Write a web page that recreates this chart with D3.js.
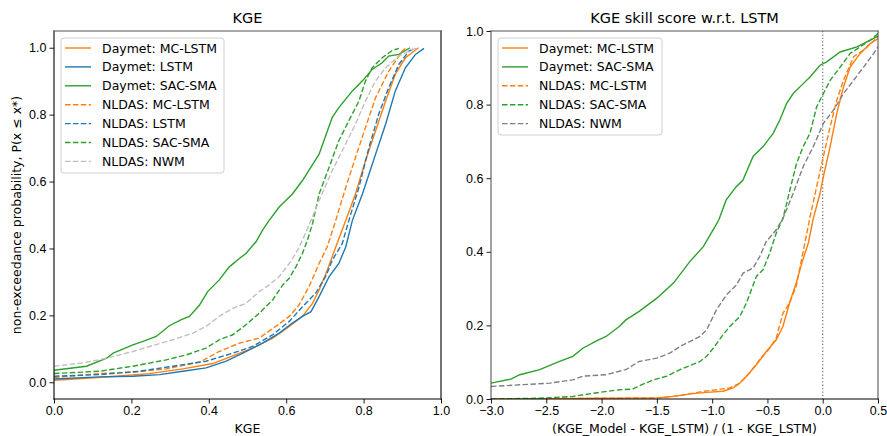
<!DOCTYPE html>
<html>
<head>
<meta charset="utf-8">
<script src="https://cdn.jsdelivr.net/npm/d3@7"></script>
<style>
  body { margin: 0; background: #fff; }
  svg { font-family: "DejaVu Sans", sans-serif; }
  .tick text { font-size: 12.5px; fill: #000; }
</style>
</head>
<body>
<div id="chart"></div>
<script>
// ---- data: ECDF curves, [value, probability] ----
const kgeDaymetMc = [[0,0.006],[0.084,0.012],[0.161,0.018],[0.247,0.026],[0.333,0.04],[0.41,0.056],[0.462,0.079],[0.513,0.102],[0.565,0.132],[0.608,0.167],[0.642,0.197],[0.668,0.236],[0.685,0.276],[0.706,0.335],[0.728,0.404],[0.754,0.484],[0.779,0.563],[0.805,0.663],[0.831,0.752],[0.857,0.841],[0.882,0.921],[0.908,0.97],[0.942,1.0]];
const kgeDaymetLstm = [[0,0.01],[0.118,0.016],[0.204,0.018],[0.273,0.023],[0.333,0.033],[0.393,0.043],[0.445,0.063],[0.488,0.087],[0.539,0.117],[0.582,0.147],[0.616,0.177],[0.642,0.197],[0.664,0.211],[0.685,0.256],[0.711,0.316],[0.736,0.355],[0.754,0.405],[0.771,0.484],[0.797,0.563],[0.831,0.682],[0.857,0.772],[0.882,0.871],[0.908,0.94],[0.934,0.98],[0.956,0.998]];
const kgeDaymetSac = [[0,0.036],[0.084,0.048],[0.136,0.072],[0.153,0.087],[0.204,0.112],[0.23,0.122],[0.264,0.137],[0.298,0.169],[0.329,0.187],[0.35,0.197],[0.376,0.231],[0.397,0.271],[0.427,0.306],[0.453,0.345],[0.479,0.37],[0.496,0.385],[0.522,0.42],[0.539,0.455],[0.556,0.484],[0.582,0.524],[0.616,0.563],[0.642,0.603],[0.685,0.682],[0.719,0.792],[0.736,0.821],[0.771,0.871],[0.797,0.901],[0.822,0.935],[0.848,0.955],[0.865,0.975],[0.891,0.98],[0.92,1.0]];
const kgeNldasMc = [[0,0.014],[0.118,0.026],[0.204,0.03],[0.29,0.04],[0.376,0.06],[0.427,0.092],[0.479,0.117],[0.53,0.132],[0.573,0.167],[0.608,0.197],[0.633,0.231],[0.659,0.286],[0.685,0.355],[0.706,0.405],[0.728,0.484],[0.754,0.583],[0.779,0.672],[0.805,0.762],[0.831,0.851],[0.865,0.93],[0.9,0.99],[0.908,0.998]];
const kgeNldasLstm = [[0,0.018],[0.118,0.023],[0.221,0.033],[0.307,0.048],[0.393,0.063],[0.462,0.087],[0.513,0.107],[0.565,0.142],[0.608,0.182],[0.642,0.226],[0.676,0.266],[0.702,0.316],[0.719,0.365],[0.745,0.415],[0.762,0.484],[0.788,0.583],[0.814,0.702],[0.839,0.801],[0.865,0.881],[0.891,0.95],[0.917,0.99],[0.934,0.998]];
const kgeNldasSac = [[0,0.026],[0.118,0.033],[0.204,0.048],[0.29,0.067],[0.342,0.082],[0.393,0.102],[0.427,0.127],[0.462,0.142],[0.496,0.172],[0.53,0.206],[0.565,0.246],[0.591,0.291],[0.608,0.311],[0.625,0.345],[0.642,0.385],[0.655,0.425],[0.668,0.474],[0.685,0.563],[0.711,0.643],[0.736,0.722],[0.762,0.782],[0.788,0.841],[0.805,0.901],[0.822,0.94],[0.848,0.97],[0.874,0.992],[0.891,0.998]];
const kgeNldasNwm = [[0,0.048],[0.076,0.058],[0.136,0.072],[0.204,0.092],[0.247,0.107],[0.307,0.127],[0.359,0.147],[0.393,0.167],[0.427,0.197],[0.462,0.221],[0.496,0.236],[0.53,0.271],[0.556,0.291],[0.582,0.316],[0.608,0.355],[0.625,0.385],[0.642,0.425],[0.664,0.484],[0.685,0.543],[0.719,0.633],[0.745,0.692],[0.779,0.772],[0.805,0.841],[0.831,0.901],[0.857,0.94],[0.891,0.975],[0.925,0.995],[0.942,1.0]];

const skillDaymetMc = [[-3,0],[-1.5,0.003],[-1.35,0.007],[-1.2,0.014],[-1.05,0.018],[-0.9,0.021],[-0.81,0.03],[-0.75,0.043],[-0.69,0.062],[-0.6,0.093],[-0.51,0.129],[-0.42,0.161],[-0.36,0.197],[-0.3,0.261],[-0.24,0.315],[-0.18,0.378],[-0.13,0.424],[-0.088,0.487],[-0.024,0.559],[0.006,0.604],[0.067,0.686],[0.127,0.776],[0.188,0.848],[0.248,0.902],[0.339,0.939],[0.43,0.966],[0.5,0.979]];
const skillDaymetSac = [[-3,0.043],[-2.82,0.054],[-2.74,0.066],[-2.56,0.08],[-2.38,0.102],[-2.26,0.116],[-2.17,0.138],[-2.05,0.157],[-1.96,0.17],[-1.84,0.197],[-1.78,0.215],[-1.66,0.238],[-1.5,0.274],[-1.35,0.315],[-1.2,0.374],[-1.08,0.414],[-0.99,0.46],[-0.939,0.487],[-0.873,0.541],[-0.782,0.577],[-0.721,0.595],[-0.63,0.659],[-0.539,0.686],[-0.448,0.722],[-0.388,0.758],[-0.327,0.803],[-0.267,0.83],[-0.176,0.857],[-0.115,0.875],[-0.024,0.907],[0.036,0.916],[0.158,0.943],[0.309,0.957],[0.43,0.975],[0.5,0.986]];
const skillNldasMc = [[-3,0],[-1.5,0.003],[-1.29,0.009],[-1.08,0.021],[-0.96,0.025],[-0.84,0.03],[-0.75,0.043],[-0.66,0.071],[-0.57,0.107],[-0.48,0.138],[-0.42,0.166],[-0.36,0.233],[-0.3,0.261],[-0.24,0.306],[-0.18,0.396],[-0.118,0.49],[-0.055,0.577],[0.006,0.659],[0.067,0.74],[0.127,0.812],[0.188,0.866],[0.279,0.93],[0.37,0.948],[0.5,0.984]];
const skillNldasSac = [[-3,0],[-2.56,0.002],[-2.26,0.007],[-2.11,0.014],[-2.02,0.018],[-1.84,0.025],[-1.72,0.027],[-1.66,0.036],[-1.53,0.052],[-1.41,0.062],[-1.29,0.08],[-1.11,0.102],[-1.05,0.116],[-0.99,0.138],[-0.9,0.175],[-0.84,0.197],[-0.75,0.224],[-0.69,0.261],[-0.6,0.333],[-0.54,0.351],[-0.48,0.396],[-0.42,0.451],[-0.36,0.49],[-0.297,0.568],[-0.236,0.641],[-0.176,0.686],[-0.115,0.722],[-0.055,0.794],[0.006,0.83],[0.067,0.866],[0.158,0.902],[0.248,0.939],[0.339,0.957],[0.43,0.975],[0.5,0.993]];
const skillNldasNwm = [[-3,0.034],[-2.71,0.039],[-2.47,0.043],[-2.26,0.052],[-2.17,0.062],[-1.96,0.066],[-1.78,0.08],[-1.66,0.102],[-1.5,0.111],[-1.38,0.125],[-1.29,0.143],[-1.11,0.17],[-1.05,0.188],[-0.96,0.243],[-0.87,0.283],[-0.78,0.31],[-0.72,0.342],[-0.63,0.356],[-0.57,0.387],[-0.51,0.428],[-0.42,0.46],[-0.358,0.492],[-0.267,0.559],[-0.176,0.632],[-0.085,0.686],[0.006,0.749],[0.097,0.785],[0.188,0.83],[0.279,0.866],[0.37,0.902],[0.461,0.939],[0.5,0.957]];

const kgeTicks = [0, 0.2, 0.4, 0.6, 0.8, 1.0];
const skillTicks = [-3, -2.5, -2, -1.5, -1, -0.5, 0, 0.5];
const probTicks = [0, 0.2, 0.4, 0.6, 0.8, 1.0];

const ORANGE = "#ff7f0e", BLUE = "#1f77b4", GREEN = "#2ca02c";

const leftSeries = [
  { label: "Daymet: MC-LSTM", data: kgeDaymetMc, color: ORANGE, dash: null },
  { label: "Daymet: LSTM", data: kgeDaymetLstm, color: BLUE, dash: null },
  { label: "Daymet: SAC-SMA", data: kgeDaymetSac, color: GREEN, dash: null },
  { label: "NLDAS: MC-LSTM", data: kgeNldasMc, color: ORANGE, dash: "5.5,2.4" },
  { label: "NLDAS: LSTM", data: kgeNldasLstm, color: BLUE, dash: "5.5,2.4" },
  { label: "NLDAS: SAC-SMA", data: kgeNldasSac, color: GREEN, dash: "5.5,2.4" },
  { label: "NLDAS: NWM", data: kgeNldasNwm, color: "#c0c0c0", dash: "5.5,2.4" }
];
const rightSeries = [
  { label: "Daymet: MC-LSTM", data: skillDaymetMc, color: ORANGE, dash: null },
  { label: "Daymet: SAC-SMA", data: skillDaymetSac, color: GREEN, dash: null },
  { label: "NLDAS: MC-LSTM", data: skillNldasMc, color: ORANGE, dash: "5.5,2.4" },
  { label: "NLDAS: SAC-SMA", data: skillNldasSac, color: GREEN, dash: "5.5,2.4" },
  { label: "NLDAS: NWM", data: skillNldasNwm, color: "#808080", dash: "5.5,2.4" }
];

const W = 887, H = 436, FS = 12.5;
const svg = d3.select("#chart").append("svg")
  .attr("width", W).attr("height", H);

const fmt = d => d3.format(".1f")(d).replace("-", "\u2212");

function panel(opts) {
  const { id, x0, x1, y0, y1, xDomain, yDomain, xTicks, series, title, xLabel, spines, legendH } = opts;
  const x = d3.scaleLinear().domain(xDomain).range([x0, x1]);
  const y = d3.scaleLinear().domain(yDomain).range([y1, y0]);
  const g = svg.append("g");

  svg.append("clipPath").attr("id", id)
    .append("rect").attr("x", x0).attr("y", y0).attr("width", x1 - x0).attr("height", y1 - y0);

  const plot = g.append("g").attr("clip-path", `url(#${id})`);
  if (opts.zeroLine) {
    plot.append("line")
      .attr("x1", x(0)).attr("x2", x(0)).attr("y1", y0).attr("y2", y1)
      .attr("stroke", "#808080").attr("stroke-width", 1.3).attr("stroke-dasharray", "1.3,2.1");
  }
  const line = d3.line().x(d => x(d[0])).y(d => y(d[1]));
  series.forEach(s => {
    plot.append("path").datum(s.data)
      .attr("d", line)
      .attr("fill", "none")
      .attr("stroke", s.color)
      .attr("stroke-width", 1.4)
      .attr("stroke-dasharray", s.dash);
  });

  // axes
  const xa = g.append("g").attr("transform", `translate(0,${y1})`)
    .call(d3.axisBottom(x).tickValues(xTicks).tickFormat(fmt).tickSize(4.5).tickPadding(3));
  const ya = g.append("g").attr("transform", `translate(${x0},0)`)
    .call(d3.axisLeft(y).tickValues(probTicks).tickFormat(fmt).tickSize(4.5).tickPadding(3));
  [xa, ya].forEach(a => {
    a.select(".domain").remove();
    a.selectAll(".tick line").attr("stroke", "#000").attr("stroke-width", 0.9);
    a.selectAll(".tick text").style("font-size", FS + "px");
  });

  // spines
  const sp = [
    ["left", x0, y0, x0, y1], ["right", x1, y0, x1, y1],
    ["top", x0, y0, x1, y0], ["bottom", x0, y1, x1, y1]
  ];
  sp.forEach(([k, ax, ay, bx, by]) => {
    g.append("line").attr("x1", ax).attr("y1", ay).attr("x2", bx).attr("y2", by)
      .attr("stroke", spines[k]).attr("stroke-width", 1.1).attr("stroke-linecap", "square");
  });

  g.append("text").attr("x", (x0 + x1) / 2).attr("y", y0 - 8)
    .attr("text-anchor", "middle").style("font-size", "14.5px").text(title);
  g.append("text").attr("x", (x0 + x1) / 2).attr("y", 433)
    .attr("text-anchor", "middle").style("font-size", FS + "px").text(xLabel);

  // legend
  const lx = x0 + 7, ly = y0 + 7;
  const lg = g.append("g");
  lg.append("rect").attr("x", lx).attr("y", ly).attr("width", opts.legendW).attr("height", legendH)
    .attr("rx", 3).attr("fill", "#fff").attr("fill-opacity", 0.8)
    .attr("stroke", "#d0d0d0").attr("stroke-width", 1);
  series.forEach((s, i) => {
    const cy = ly + 10 + i * 18.9;
    lg.append("line").attr("x1", lx + 4).attr("x2", lx + 30).attr("y1", cy).attr("y2", cy)
      .attr("stroke", s.color).attr("stroke-width", 1.4).attr("stroke-dasharray", s.dash);
    lg.append("text").attr("x", lx + 41).attr("y", cy).attr("dy", "0.36em")
      .style("font-size", FS + "px").text(s.label);
  });
}

panel({
  id: "clipL", x0: 54, x1: 441, y0: 31, y1: 399,
  xDomain: [0, 1], yDomain: [-0.05, 1.05], xTicks: kgeTicks,
  series: leftSeries, title: "KGE", xLabel: "KGE",
  spines: { left: "#000", right: "#000", top: "#555", bottom: "#000" },
  legendW: 163, legendH: 135
});
panel({
  id: "clipR", x0: 491, x1: 878, y0: 31, y1: 399,
  xDomain: [-3, 0.5], yDomain: [0, 1], xTicks: skillTicks,
  series: rightSeries, title: "KGE skill score w.r.t. LSTM",
  xLabel: "(KGE_Model - KGE_LSTM) / (1 - KGE_LSTM)",
  spines: { left: "#555", right: "#555", top: "#555", bottom: "#000" },
  legendW: 164, legendH: 97, zeroLine: true
});

svg.append("text")
  .attr("transform", "translate(21,215) rotate(-90)")
  .attr("text-anchor", "middle").style("font-size", FS + "px")
  .text("non-exceedance probability, P(x \u2264 x*)");
</script>
</body>
</html>
